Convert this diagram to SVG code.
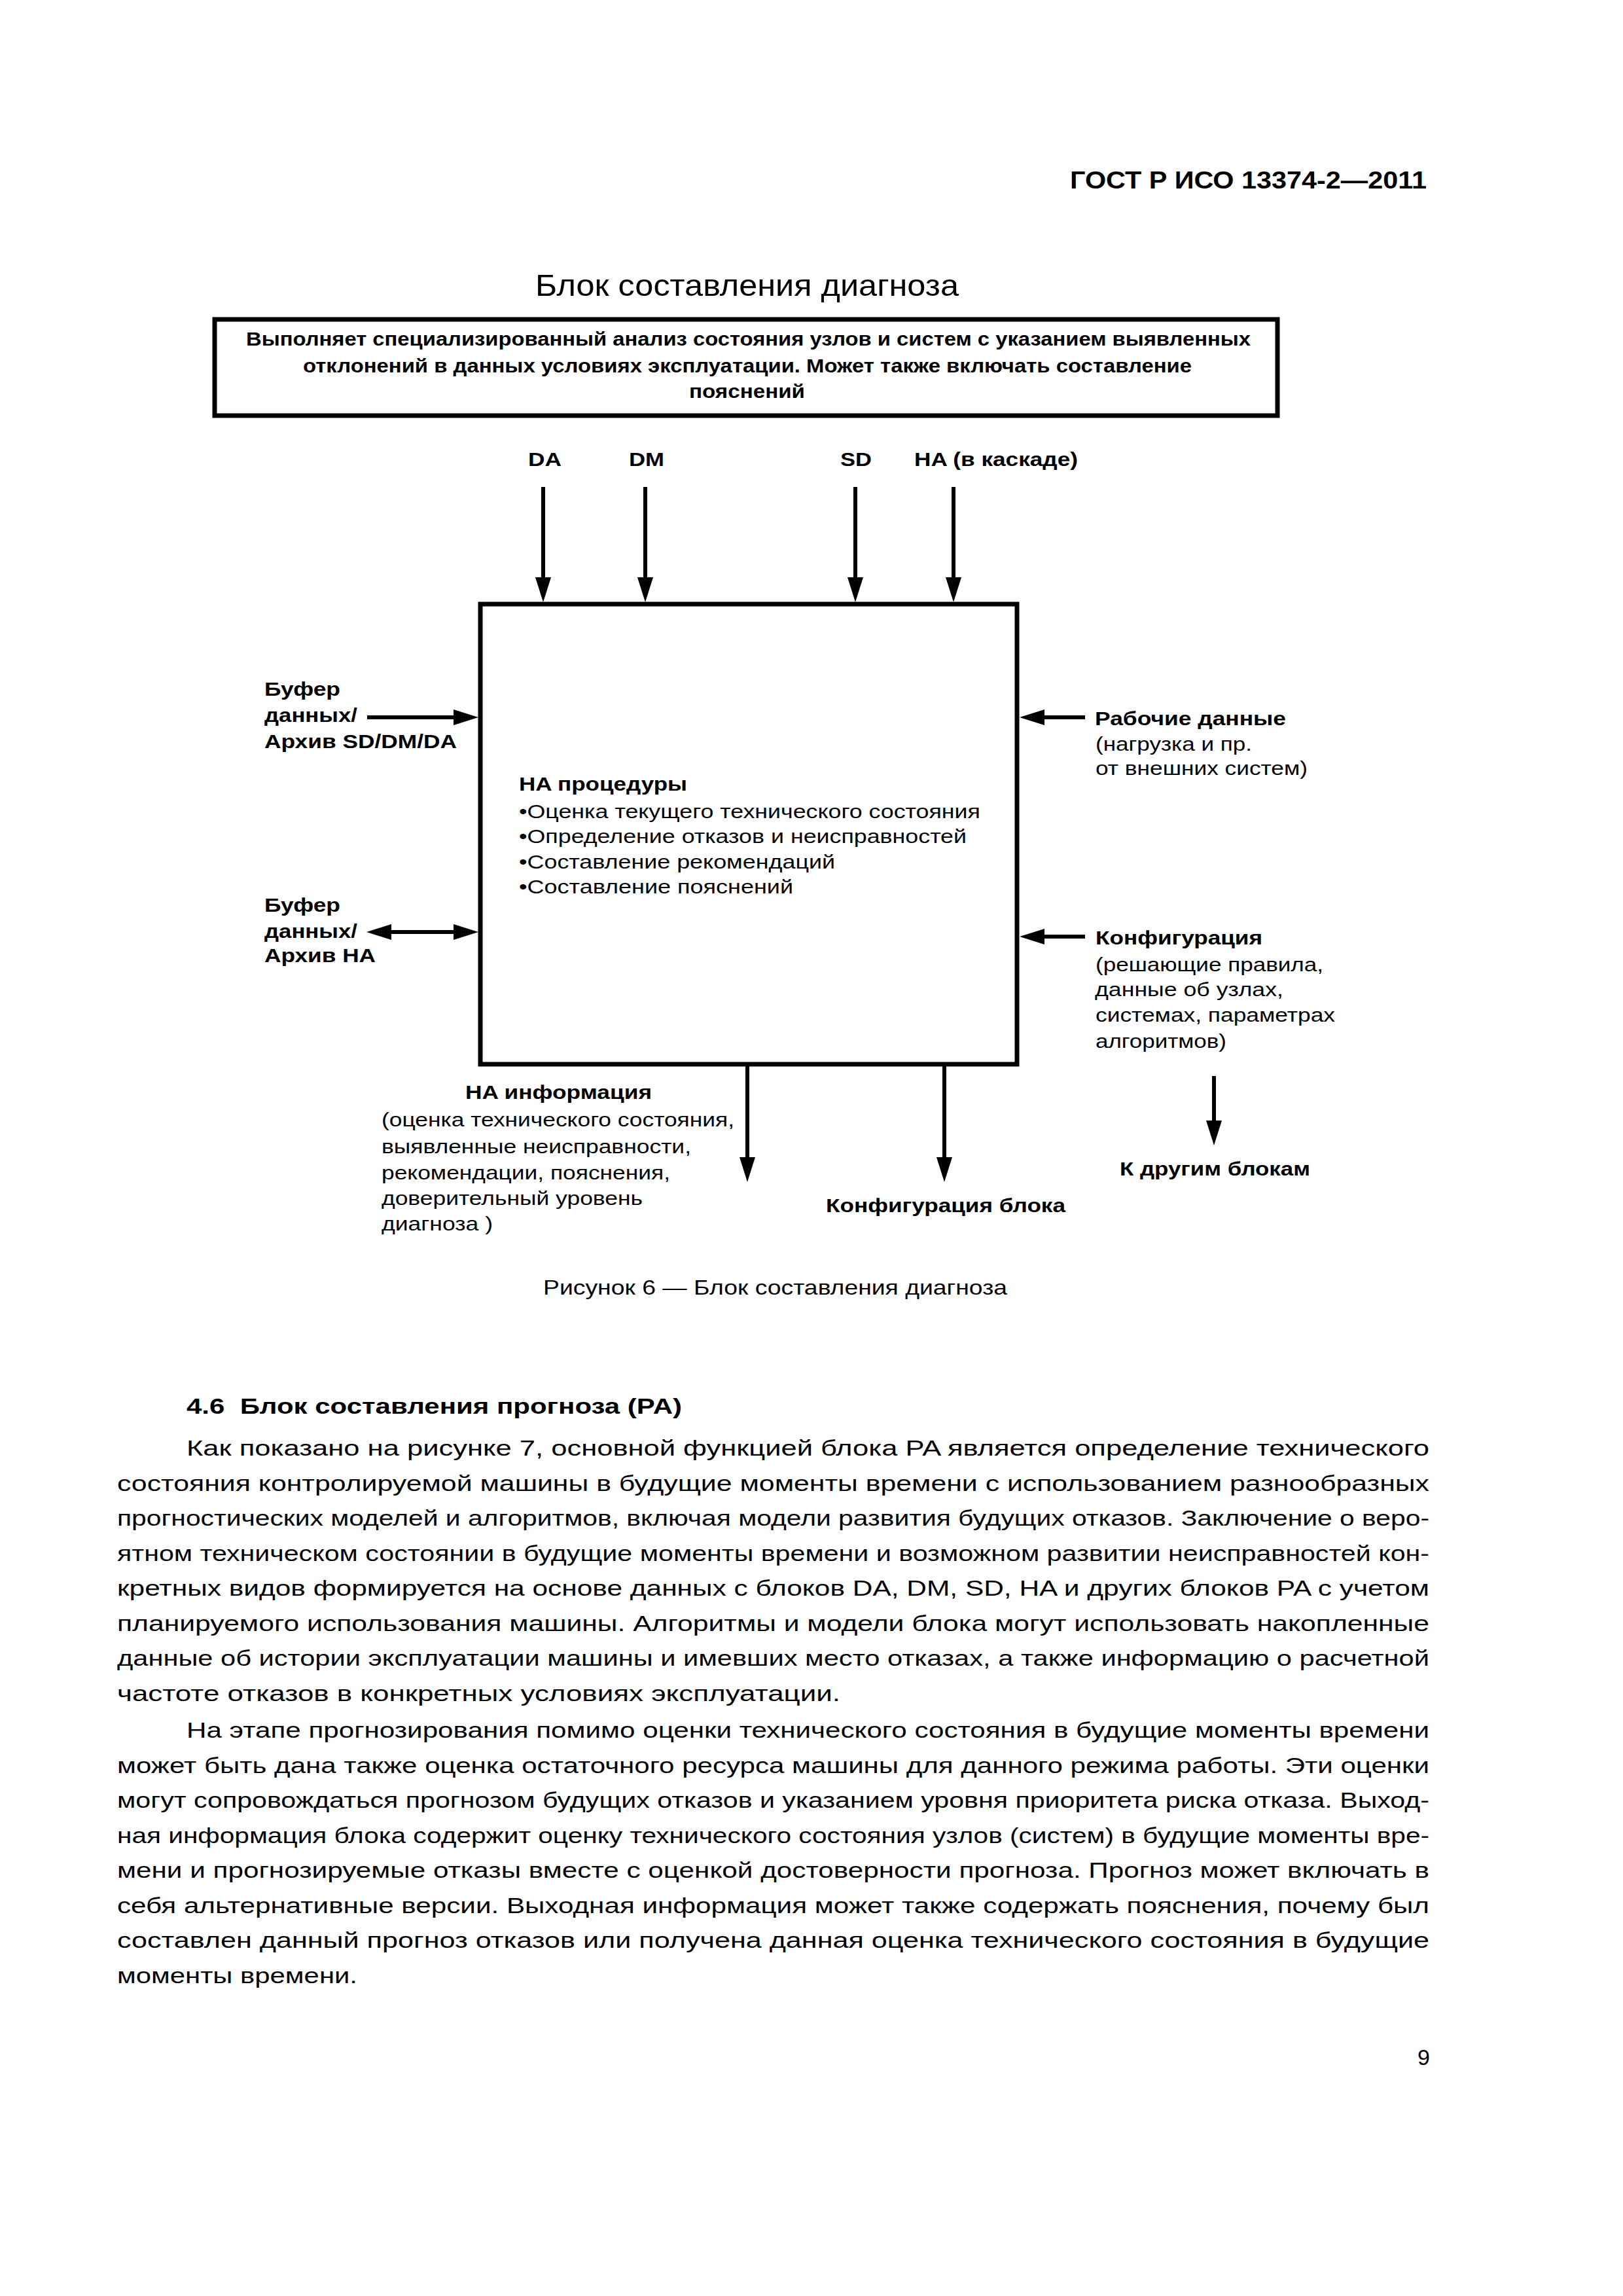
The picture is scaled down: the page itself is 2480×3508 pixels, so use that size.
<svg xmlns="http://www.w3.org/2000/svg" width="2480" height="3508" viewBox="0 0 2480 3508">
<style>
text{font-family:"Liberation Sans",Arial,"DejaVu Sans",sans-serif;fill:#000}
.b{font-weight:bold}
.hd{font-size:36px}
.ti{font-size:47px}
.bx{font-size:30px}
.lb{font-size:30px}
.cap{font-size:32px}
.body{font-size:34px}
.box{fill:#fff;stroke:#000;stroke-width:7}
.con{fill:none;stroke:#000;stroke-width:6}
</style>
<defs>
<marker id="ah" markerUnits="userSpaceOnUse" markerWidth="38" markerHeight="24" refX="0" refY="12" orient="auto-start-reverse" viewBox="0 0 38 24">
<path d="M0,0 L38,12 L0,24 z" fill="#000"/>
</marker>
</defs>
<rect x="0" y="0" width="2480" height="3508" fill="#fff"/>

<g id="page-header">
<text class="b hd" x="1635" y="288" textLength="545" lengthAdjust="spacingAndGlyphs">ГОСТ Р ИСО 13374-2—2011</text>
</g>

<g id="figure-title">
<text class="ti" x="818" y="452" textLength="647" lengthAdjust="spacingAndGlyphs">Блок составления диагноза</text>
</g>

<g id="description-box">
<rect class="box" x="328" y="488" width="1624" height="147"/>
<text class="b bx" x="376" y="528" textLength="1535" lengthAdjust="spacingAndGlyphs">Выполняет специализированный анализ состояния узлов и систем с указанием выявленных</text>
<text class="b bx" x="463" y="569" textLength="1358" lengthAdjust="spacingAndGlyphs">отклонений в данных условиях эксплуатации. Может также включать составление</text>
<text class="b bx" x="1053" y="608" textLength="177" lengthAdjust="spacingAndGlyphs">пояснений</text>
</g>

<g id="input-DA"><text class="b lb" x="807" y="712" textLength="51" lengthAdjust="spacingAndGlyphs">DA</text></g>
<g id="input-DM"><text class="b lb" x="961" y="712" textLength="54" lengthAdjust="spacingAndGlyphs">DM</text></g>
<g id="input-SD"><text class="b lb" x="1284" y="712" textLength="48" lengthAdjust="spacingAndGlyphs">SD</text></g>
<g id="input-HA"><text class="b lb" x="1397" y="712" textLength="250" lengthAdjust="spacingAndGlyphs">HA (в каскаде)</text></g>

<g id="main-block">
<rect class="box" x="734" y="923" width="820" height="703"/>
<text class="b lb" x="793" y="1208" textLength="257" lengthAdjust="spacingAndGlyphs">HA процедуры</text>
<text class="lb" x="793" y="1250" textLength="705" lengthAdjust="spacingAndGlyphs">•Оценка текущего технического состояния</text>
<text class="lb" x="793" y="1288" textLength="684" lengthAdjust="spacingAndGlyphs">•Определение отказов и неисправностей</text>
<text class="lb" x="793" y="1327" textLength="483" lengthAdjust="spacingAndGlyphs">•Составление рекомендаций</text>
<text class="lb" x="793" y="1365" textLength="419" lengthAdjust="spacingAndGlyphs">•Составление пояснений</text>
</g>

<g id="buffer-sd-dm-da">
<text class="b lb" x="404" y="1063" textLength="116" lengthAdjust="spacingAndGlyphs">Буфер</text>
<text class="b lb" x="404" y="1103" textLength="142" lengthAdjust="spacingAndGlyphs">данных/</text>
<text class="b lb" x="404" y="1143" textLength="294" lengthAdjust="spacingAndGlyphs">Архив SD/DM/DA</text>
</g>

<g id="buffer-ha">
<text class="b lb" x="404" y="1393" textLength="116" lengthAdjust="spacingAndGlyphs">Буфер</text>
<text class="b lb" x="404" y="1433" textLength="142" lengthAdjust="spacingAndGlyphs">данных/</text>
<text class="b lb" x="404" y="1470" textLength="170" lengthAdjust="spacingAndGlyphs">Архив HA</text>
</g>

<g id="operating-data">
<text class="b lb" x="1673" y="1108" textLength="292" lengthAdjust="spacingAndGlyphs">Рабочие данные</text>
<text class="lb" x="1674" y="1147" textLength="239" lengthAdjust="spacingAndGlyphs">(нагрузка и пр.</text>
<text class="lb" x="1674" y="1184" textLength="324" lengthAdjust="spacingAndGlyphs">от внешних систем)</text>
</g>

<g id="configuration">
<text class="b lb" x="1674" y="1443" textLength="255" lengthAdjust="spacingAndGlyphs">Конфигурация</text>
<text class="lb" x="1674" y="1484" textLength="348" lengthAdjust="spacingAndGlyphs">(решающие правила,</text>
<text class="lb" x="1673" y="1522" textLength="288" lengthAdjust="spacingAndGlyphs">данные об узлах,</text>
<text class="lb" x="1674" y="1561" textLength="366" lengthAdjust="spacingAndGlyphs">системах, параметрах</text>
<text class="lb" x="1674" y="1601" textLength="200" lengthAdjust="spacingAndGlyphs">алгоритмов)</text>
</g>

<g id="ha-information">
<text class="b lb" x="711" y="1679" textLength="285" lengthAdjust="spacingAndGlyphs">HA информация</text>
<text class="lb" x="583" y="1721" textLength="539" lengthAdjust="spacingAndGlyphs">(оценка технического состояния,</text>
<text class="lb" x="583" y="1762" textLength="473" lengthAdjust="spacingAndGlyphs">выявленные неисправности,</text>
<text class="lb" x="583" y="1802" textLength="441" lengthAdjust="spacingAndGlyphs">рекомендации, пояснения,</text>
<text class="lb" x="583" y="1841" textLength="399" lengthAdjust="spacingAndGlyphs">доверительный уровень</text>
<text class="lb" x="583" y="1880" textLength="170" lengthAdjust="spacingAndGlyphs">диагноза )</text>
</g>

<g id="block-configuration">
<text class="b lb" x="1262" y="1852" textLength="366" lengthAdjust="spacingAndGlyphs">Конфигурация блока</text>
</g>

<g id="to-other-blocks">
<text class="b lb" x="1711" y="1796" textLength="291" lengthAdjust="spacingAndGlyphs">К другим блокам</text>
</g>

<g id="connectors">
<line class="con" x1="830" y1="744" x2="830" y2="882" marker-end="url(#ah)"/>
<line class="con" x1="986" y1="744" x2="986" y2="882" marker-end="url(#ah)"/>
<line class="con" x1="1307" y1="744" x2="1307" y2="882" marker-end="url(#ah)"/>
<line class="con" x1="1457" y1="744" x2="1457" y2="882" marker-end="url(#ah)"/>
<line class="con" x1="561" y1="1096" x2="693" y2="1096" marker-end="url(#ah)"/>
<line class="con" x1="598" y1="1424" x2="693" y2="1424" marker-start="url(#ah)" marker-end="url(#ah)"/>
<line class="con" x1="1658" y1="1096" x2="1596" y2="1096" marker-end="url(#ah)"/>
<line class="con" x1="1658" y1="1431" x2="1596" y2="1431" marker-end="url(#ah)"/>
<line class="con" x1="1142" y1="1628" x2="1142" y2="1768" marker-end="url(#ah)"/>
<line class="con" x1="1443" y1="1628" x2="1443" y2="1768" marker-end="url(#ah)"/>
<line class="con" x1="1855" y1="1644" x2="1855" y2="1712" marker-end="url(#ah)"/>
</g>

<g id="figure-caption">
<text class="cap" x="830" y="1978" textLength="709" lengthAdjust="spacingAndGlyphs">Рисунок 6 — Блок составления диагноза</text>
</g>

<g id="body-text">
<text class="b body" x="285" y="2160" textLength="757" lengthAdjust="spacingAndGlyphs">4.6&#160; Блок составления прогноза (PA)</text>
<text class="body" x="285" y="2224" textLength="1899" lengthAdjust="spacingAndGlyphs">Как показано на рисунке 7, основной функцией блока PA является определение технического</text>
<text class="body" x="179" y="2278" textLength="2005" lengthAdjust="spacingAndGlyphs">состояния контролируемой машины в будущие моменты времени с использованием разнообразных</text>
<text class="body" x="179" y="2331" textLength="2005" lengthAdjust="spacingAndGlyphs">прогностических моделей и алгоритмов, включая модели развития будущих отказов. Заключение о веро-</text>
<text class="body" x="179" y="2385" textLength="2005" lengthAdjust="spacingAndGlyphs">ятном техническом состоянии в будущие моменты времени и возможном развитии неисправностей кон-</text>
<text class="body" x="179" y="2438" textLength="2005" lengthAdjust="spacingAndGlyphs">кретных видов формируется на основе данных с блоков DA, DM, SD, HA и других блоков PA с учетом</text>
<text class="body" x="179" y="2492" textLength="2005" lengthAdjust="spacingAndGlyphs">планируемого использования машины. Алгоритмы и модели блока могут использовать накопленные</text>
<text class="body" x="179" y="2545" textLength="2005" lengthAdjust="spacingAndGlyphs">данные об истории эксплуатации машины и имевших место отказах, а также информацию о расчетной</text>
<text class="body" x="179" y="2599" textLength="1105" lengthAdjust="spacingAndGlyphs">частоте отказов в конкретных условиях эксплуатации.</text>
<text class="body" x="285" y="2655" textLength="1899" lengthAdjust="spacingAndGlyphs">На этапе прогнозирования помимо оценки технического состояния в будущие моменты времени</text>
<text class="body" x="179" y="2709" textLength="2005" lengthAdjust="spacingAndGlyphs">может быть дана также оценка остаточного ресурса машины для данного режима работы. Эти оценки</text>
<text class="body" x="179" y="2762" textLength="2005" lengthAdjust="spacingAndGlyphs">могут сопровождаться прогнозом будущих отказов и указанием уровня приоритета риска отказа. Выход-</text>
<text class="body" x="179" y="2816" textLength="2005" lengthAdjust="spacingAndGlyphs">ная информация блока содержит оценку технического состояния узлов (систем) в будущие моменты вре-</text>
<text class="body" x="179" y="2869" textLength="2005" lengthAdjust="spacingAndGlyphs">мени и прогнозируемые отказы вместе с оценкой достоверности прогноза. Прогноз может включать в</text>
<text class="body" x="179" y="2923" textLength="2005" lengthAdjust="spacingAndGlyphs">себя альтернативные версии. Выходная информация может также содержать пояснения, почему был</text>
<text class="body" x="179" y="2976" textLength="2005" lengthAdjust="spacingAndGlyphs">составлен данный прогноз отказов или получена данная оценка технического состояния в будущие</text>
<text class="body" x="179" y="3030" textLength="367" lengthAdjust="spacingAndGlyphs">моменты времени.</text>
</g>

<g id="page-number">
<text class="body" x="2185" y="3155" text-anchor="end">9</text>
</g>
</svg>
